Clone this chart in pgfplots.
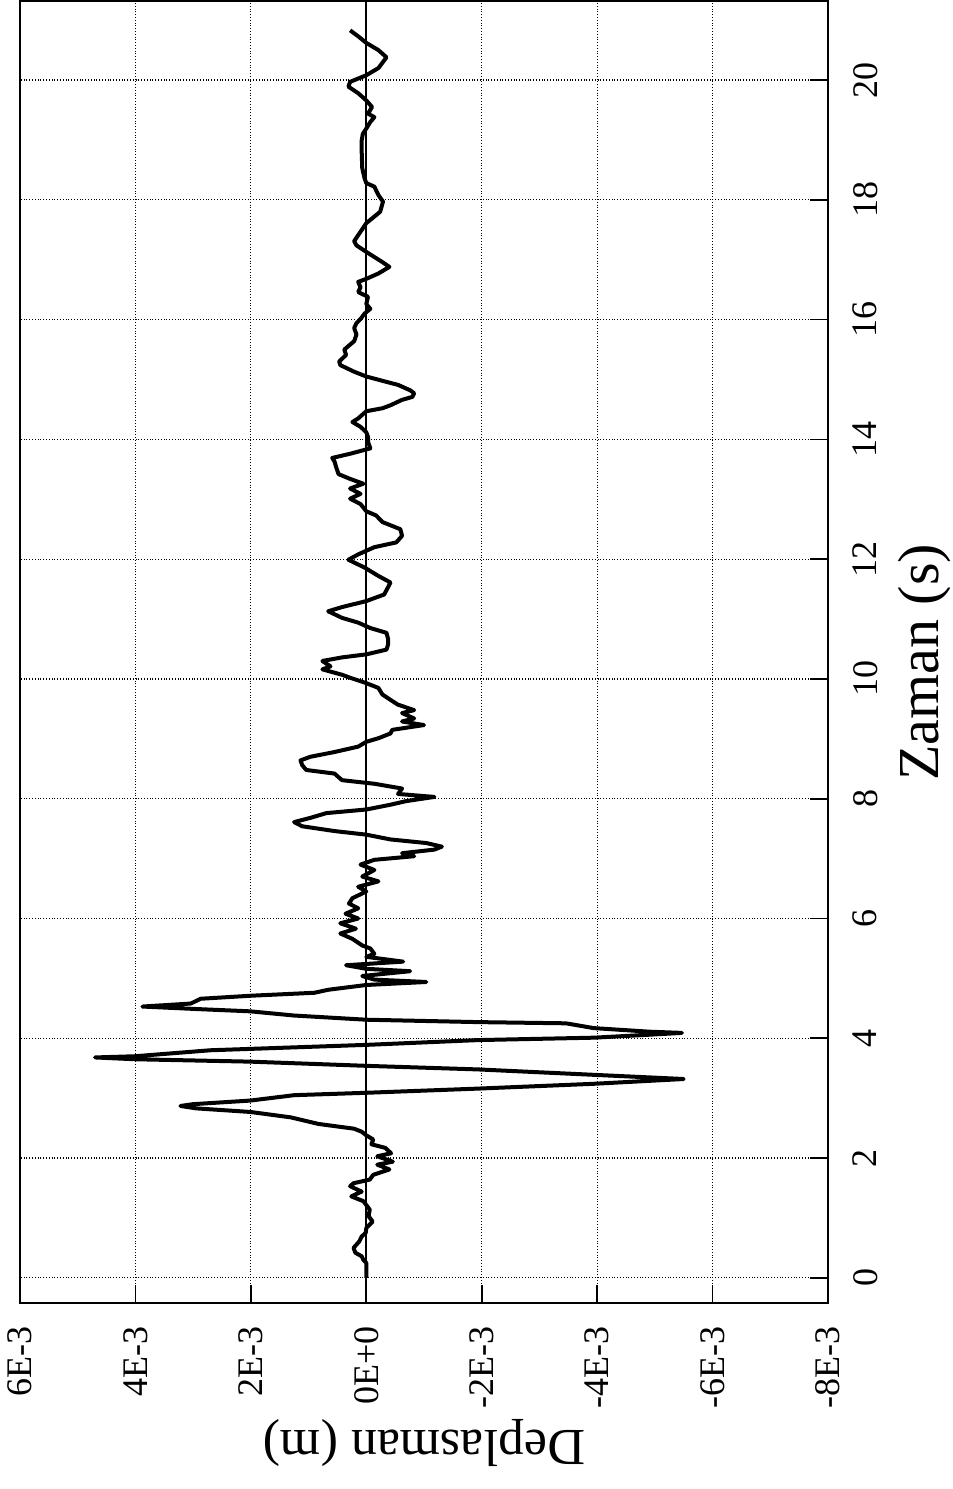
\documentclass[border=0pt]{standalone}
\usepackage{fontspec}
\setmainfont{Liberation Serif}
\usepackage{pgfplots}
\pgfplotsset{compat=1.18}
\usepackage{pgfplotstable}
% t = Zaman (s), d = Deplasman in units of 1E-3 m
\pgfplotstableread{
t d
0.00 0.00
0.25 0.00
0.30 0.05
0.36 0.08
0.42 0.19
0.50 0.22
0.61 0.12
0.69 0.08
0.75 0.01
0.83 0.00
0.94 -0.11
1.03 -0.04
1.14 -0.06
1.28 0.05
1.36 0.26
1.44 0.08
1.53 0.28
1.58 0.22
1.64 -0.06
1.72 -0.12
1.81 -0.40
1.89 -0.19
1.94 -0.46
2.03 -0.19
2.08 -0.43
2.17 -0.33
2.23 -0.09
2.31 -0.12
2.38 0.00
2.44 0.08
2.49 0.21
2.57 0.83
2.68 1.31
2.77 2.01
2.83 2.95
2.87 3.22
2.90 3.00
2.96 2.01
3.05 1.25
3.09 0.00
3.16 -1.94
3.24 -3.94
3.32 -5.50
3.39 -3.94
3.48 -1.94
3.54 0.00
3.61 2.01
3.65 4.01
3.68 4.70
3.70 4.01
3.80 2.70
3.89 0.00
3.97 -1.94
4.01 -3.94
4.06 -4.91
4.09 -5.47
4.11 -4.91
4.17 -3.94
4.25 -3.46
4.27 -1.94
4.31 0.00
4.38 1.25
4.45 2.01
4.49 2.98
4.53 3.88
4.58 3.04
4.66 2.87
4.71 2.01
4.76 0.90
4.81 0.66
4.89 0.00
4.94 -1.04
4.98 -0.14
5.04 0.07
5.12 -0.76
5.16 0.00
5.22 0.35
5.28 -0.64
5.36 0.00
5.41 -0.14
5.50 -0.07
5.55 0.07
5.66 0.24
5.75 0.45
5.83 0.18
5.92 0.45
6.00 0.14
6.08 0.36
6.17 0.14
6.25 0.30
6.34 0.24
6.45 0.00
6.53 0.14
6.62 -0.21
6.70 0.07
6.81 -0.14
6.90 0.10
6.98 -0.14
7.04 -0.83
7.09 -0.62
7.15 -1.18
7.20 -1.31
7.26 -1.04
7.32 -0.42
7.40 0.00
7.46 0.55
7.54 1.11
7.61 1.25
7.68 0.97
7.76 0.69
7.82 0.00
7.90 -0.42
7.96 -0.69
8.03 -1.18
8.08 -0.55
8.17 -0.62
8.25 -0.14
8.31 0.42
8.36 0.48
8.42 0.55
8.48 1.04
8.56 1.11
8.64 1.14
8.70 0.97
8.78 0.55
8.87 0.14
8.95 0.00
9.01 -0.21
9.09 -0.42
9.15 -0.45
9.23 -1.00
9.29 -0.62
9.34 -0.83
9.43 -0.62
9.48 -0.83
9.57 -0.55
9.65 -0.42
9.74 -0.28
9.85 -0.21
9.93 0.00
10.02 0.28
10.07 0.42
10.16 0.76
10.21 0.62
10.30 0.76
10.36 0.42
10.41 0.00
10.49 -0.35
10.58 -0.38
10.66 -0.38
10.77 -0.35
10.85 -0.07
10.94 0.14
11.02 0.42
11.13 0.66
11.20 0.42
11.30 0.00
11.41 -0.31
11.61 -0.42
11.72 -0.21
11.86 0.03
11.99 0.31
12.08 0.14
12.20 -0.14
12.28 -0.52
12.39 -0.62
12.50 -0.59
12.62 -0.28
12.73 -0.17
12.80 0.00
12.92 0.10
13.01 0.28
13.09 0.10
13.18 0.28
13.26 0.05
13.34 0.28
13.42 0.48
13.53 0.52
13.63 0.55
13.69 0.59
13.76 0.28
13.85 -0.07
13.96 -0.03
14.04 -0.03
14.12 0.00
14.21 0.10
14.29 0.24
14.35 0.14
14.47 0.00
14.52 -0.28
14.57 -0.42
14.66 -0.62
14.71 -0.80
14.77 -0.83
14.82 -0.76
14.91 -0.55
14.96 -0.35
15.05 0.00
15.13 0.21
15.24 0.45
15.30 0.47
15.41 0.35
15.50 0.38
15.64 0.21
15.75 0.17
15.86 0.21
15.94 0.17
16.01 0.10
16.10 0.03
16.18 -0.07
16.26 0.00
16.38 -0.03
16.46 0.14
16.54 0.10
16.63 0.14
16.68 0.00
16.77 -0.21
16.88 -0.40
16.96 -0.28
17.13 0.00
17.24 0.17
17.31 0.21
17.41 0.14
17.61 0.00
17.80 -0.24
17.97 -0.29
18.08 -0.21
18.22 -0.14
18.28 0.00
18.36 0.03
18.53 0.07
18.82 0.08
18.99 0.08
19.10 0.06
19.19 0.00
19.30 -0.07
19.38 -0.14
19.44 -0.03
19.55 -0.10
19.66 0.00
19.78 0.14
19.89 0.31
19.97 0.28
20.08 0.00
20.20 -0.21
20.38 -0.35
20.50 -0.21
20.62 0.00
20.73 0.14
20.83 0.28
}\disp
\begin{document}
\begin{tikzpicture}
\useasboundingbox (-10pt,-93pt) rectangle (466.5pt,651.5pt);
\begin{axis}[
  at={(0,0)}, anchor=south west,
  scale only axis, width=404pt, height=651pt,
  x dir=reverse,
  xmin=-8, xmax=6, ymin=-0.42, ymax=21.32,
  xtick={-8,-6,-4,-2,2,4,6},
  xticklabels={-8E-3,-6E-3,-4E-3,-2E-3,2E-3,4E-3,6E-3},
  extra x ticks={0}, extra x tick labels={0E+0},
  extra x tick style={major grid style={solid,black,line width=0.8pt}},
  minor x tick num=1,
  ytick={0,2,...,20},
  xtick pos=bottom, ytick pos=right, yticklabel pos=right,
  tick align=inside,
  major tick length=9pt, minor tick length=4.5pt,
  xmajorgrids, ymajorgrids,
  major grid style={densely dotted, black, line width=0.6pt},
  axis line style={line width=1.2pt},
  tick style={black, line width=0.8pt},
  ticklabel style={font=\fontsize{18}{20}\selectfont},
  /pgf/number format/assume math mode=true,
  xticklabel style={yshift=-8pt, rotate=90, anchor=east},
  yticklabel style={xshift=9pt, rotate=90, anchor=north},
  xlabel={Deplasman (m)}, ylabel={Zaman (s)},
  every axis x label/.style={at={(axis description cs:0.5,0)}, anchor=center, yshift=-70pt, rotate=180, font=\fontsize{26}{30}\selectfont},
  every axis y label/.style={at={(axis description cs:1,0.492)}, anchor=center, xshift=48.5pt, rotate=90, font=\fontsize{29}{34}\selectfont},
]
\addplot[black, line width=2pt, line join=round] table[x=d,y=t] {\disp};
\end{axis}
\end{tikzpicture}
\end{document}
